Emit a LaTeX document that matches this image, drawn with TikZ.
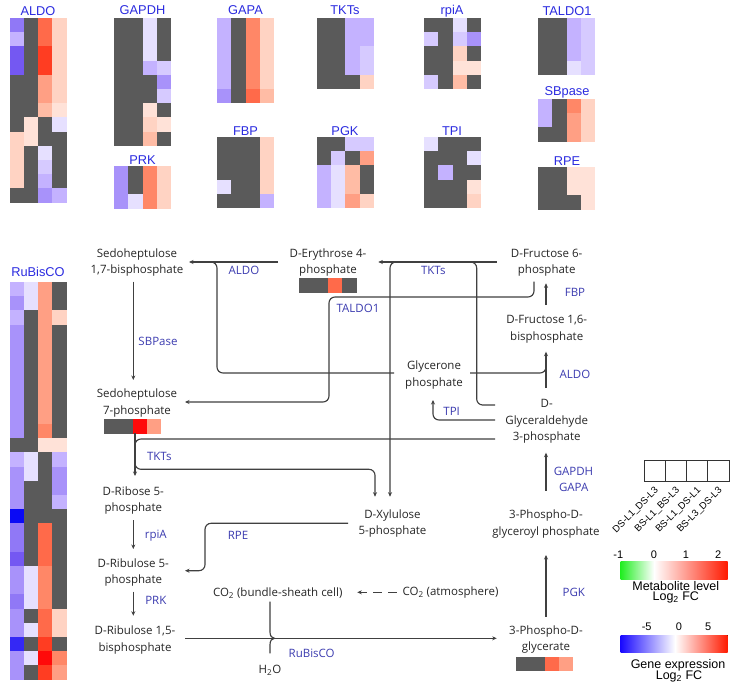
\documentclass[tikz,border=0pt]{standalone}
\usepackage{fontspec}
\setmainfont{Open Sans}
\newfontfamily\arialf{Liberation Sans}
\usetikzlibrary{arrows.meta}
\definecolor{hG}{HTML}{5A5A5A}
\definecolor{hP0}{HTML}{E6E0FF}
\definecolor{hP1}{HTML}{D6CAFF}
\definecolor{hP2}{HTML}{C4B2FF}
\definecolor{hP3}{HTML}{A892FA}
\definecolor{hP4}{HTML}{9078F6}
\definecolor{hP5}{HTML}{7458F2}
\definecolor{hB}{HTML}{0A0AF5}
\definecolor{hB2}{HTML}{3428F5}
\definecolor{hR0}{HTML}{FFE2D8}
\definecolor{hR1}{HTML}{FFD3C3}
\definecolor{hR2}{HTML}{FFBCA5}
\definecolor{hR3}{HTML}{FF9F84}
\definecolor{hR4}{HTML}{FF8767}
\definecolor{hR5}{HTML}{FF6A4A}
\definecolor{hR6}{HTML}{FF3D22}
\definecolor{hR7}{HTML}{FF0A0A}
\definecolor{lnc}{HTML}{404040}
\definecolor{enzc}{HTML}{3C3CB0}
\definecolor{ttlc}{HTML}{2B2BE0}
\definecolor{metc}{HTML}{262626}
\definecolor{greenbar}{HTML}{22EE22}
\definecolor{redbar}{HTML}{FF1A00}
\definecolor{bluebar}{HTML}{1A0AFF}
\newcommand\hmap[3]{%
  \foreach \hrow [count=\hr from 0] in {#3}{%
    \foreach \hc [count=\hk from 0] in \hrow{%
      \fill[fill=\hc] ({#1+\hk*14.3},{#2+\hr*14.2}) rectangle ++(14.35,14.25);
    }
  }
}
\begin{document}
\begin{tikzpicture}[x=1pt,y=-1pt,
  met/.style={font=\fontsize{11.5}{16.5}\selectfont, text=metc, align=center, inner sep=0pt},
  enzl/.style={font=\fontsize{11.5}{14}\selectfont, text=enzc, inner sep=0pt},
  ttl/.style={font=\arialf\fontsize{12.8}{14}\selectfont, text=ttlc, inner sep=0pt},
  conn/.style={draw=lnc, line width=1.15pt},
  arr/.style={conn, -{Stealth[length=4.5pt,width=4pt]}},
  rc/.style={rounded corners=6pt},
  leg/.style={font=\arialf\fontsize{12.5}{14}\selectfont, inner sep=0pt},
  ticklbl/.style={font=\arialf\fontsize{11}{12}\selectfont, inner sep=0pt},
  rotlbl/.style={font=\arialf\fontsize{9.6}{12}\selectfont, rotate=45, anchor=east, inner sep=0pt},
]
\useasboundingbox[fill=white] (0,0) rectangle (745,694);

% ---------- heatmaps ----------
\hmap{9.5}{18}{{hP4,hG,hR5,hR1},{hP2,hG,hR5,hR1},{hP5,hG,hR6,hR1},{hP5,hG,hR6,hR1},{hG,hG,hR3,hR1},{hG,hG,hR3,hR1},{hG,hG,hR2,hR0},{hG,hR0,hG,hP0},{hR1,hR0,hG,hG},{hR1,hG,hP0,hG},{hR1,hG,hP1,hG},{hR1,hG,hP2,hG},{hG,hG,hP3,hP2}}
\hmap{114}{18}{{hG,hG,hP0,hG},{hG,hG,hP0,hG},{hG,hG,hP0,hG},{hG,hG,hP2,hP1},{hG,hG,hG,hP3},{hG,hG,hG,hP1},{hG,hG,hR0,hG},{hG,hG,hR1,hR0},{hG,hG,hR2,hG}}
\hmap{114}{166}{{hP3,hG,hR4,hR1},{hP3,hG,hR4,hR1},{hP3,hP0,hR4,hR1}}
\hmap{217}{18}{{hP2,hG,hR4,hR1},{hP2,hG,hR4,hR1},{hP2,hG,hR4,hR1},{hP2,hG,hR4,hR1},{hP2,hG,hR4,hR1},{hP3,hG,hR5,hR2}}
\hmap{217}{137}{{hG,hG,hG,hR1},{hG,hG,hG,hR1},{hG,hG,hG,hR1},{hP0,hG,hG,hR1},{hG,hG,hG,hP2}}
\hmap{316.7}{18}{{hG,hG,hP2,hP2},{hG,hG,hP2,hP2},{hG,hG,hP2,hP1},{hG,hG,hP2,hP1},{hG,hG,hG,hR1}}
\hmap{424}{18}{{hG,hG,hP0,hG},{hP1,hG,hP1,hP3},{hG,hG,hR1,hG},{hG,hG,hR0,hR0},{hP1,hG,hR2,hG}}
\hmap{316.7}{137}{{hG,hG,hP1,hP1},{hG,hP1,hG,hR3},{hP2,hP0,hR2,hG},{hP2,hP0,hR2,hG},{hP2,hP0,hR3,hR1}}
\hmap{424}{137}{{hP0,hG,hG,hG},{hG,hG,hG,hP0},{hG,hP2,hG,hG},{hG,hG,hG,hR0},{hG,hG,hG,hR1}}
\hmap{538}{18}{{hG,hG,hP2,hP1},{hG,hG,hP2,hP1},{hG,hG,hP2,hP1},{hG,hG,hP0,hP1}}
\hmap{538}{99}{{hP2,hG,hR4,hR1},{hP2,hG,hR3,hR1},{hG,hG,hR3,hR1}}
\hmap{538}{167}{{hG,hG,hR0,hR0},{hG,hG,hR0,hR0},{hG,hG,hG,hR0}}
\hmap{9.5}{282}{{hP2,hP0,hR3,hG},{hP3,hP0,hR3,hG},{hP2,hG,hR3,hR1},{hP3,hG,hR3,hG},{hP3,hG,hR3,hG},{hP3,hG,hR3,hG},{hP3,hG,hR3,hG},{hP3,hG,hR3,hG},{hP3,hG,hR3,hG},{hP3,hG,hR3,hG},{hP3,hG,hR4,hG},{hG,hG,hR0,hR0},{hP2,hP0,hG,hP2},{hP3,hP0,hG,hP3},{hP3,hG,hG,hP3},{hP3,hG,hG,hP2},{hB,hG,hG,hG},{hP4,hG,hR5,hG},{hP4,hG,hR5,hG},{hP5,hG,hR5,hG},{hP3,hP0,hR4,hG},{hP3,hP0,hR4,hG},{hP4,hP0,hR4,hG},{hP3,hG,hR5,hR1},{hP3,hP0,hR5,hR1},{hB2,hG,hR6,hG},{hP3,hP0,hR7,hR4},{hP3,hG,hR6,hR3}}

\node[ttl] (t-aldo) at (38,11) {ALDO};
\node[ttl] (t-gapdh) at (142.5,10) {GAPDH};
\node[ttl] (t-gapa) at (245.5,10) {GAPA};
\node[ttl] (t-tkts) at (345,10) {TKTs};
\node[ttl] (t-rpia) at (452,11) {rpiA};
\node[ttl] (t-taldo) at (567,11) {TALDO1};
\node[ttl] (t-prk) at (142.5,160) {PRK};
\node[ttl] (t-fbp) at (245.5,131) {FBP};
\node[ttl] (t-pgk) at (345,131) {PGK};
\node[ttl] (t-tpi) at (452,131) {TPI};
\node[ttl] (t-sbp) at (567,92) {SBpase};
\node[ttl] (t-rpe) at (567,161) {RPE};
\node[ttl] (t-rub) at (38,271.5) {RuBisCO};

% ---------- metabolites ----------
\node[met] (s17bp) at (137,262.5) {Sedoheptulose\\1,7-bisphosphate};
\node[met] (e4p) at (328,262.5) {D-Erythrose 4-\\phosphate};
\node[met] (f6p) at (546.7,262.5) {D-Fructose 6-\\phosphate};
\node[met] (f16bp) at (546.7,329) {D-Fructose 1,6-\\bisphosphate};
\node[met] (glyc) at (434,375) {Glycerone\\phosphate};
\node[met] (g3p) at (546.7,421.5) {D-\\Glyceraldehyde\\3-phosphate};
\node[met] (s7p) at (137,403) {Sedoheptulose\\7-phosphate};
\node[met] (r5p) at (133.3,500.5) {D-Ribose 5-\\phosphate};
\node[met] (xu5p) at (392.5,523.5) {D-Xylulose\\5-phosphate};
\node[met] (ru5p) at (133.3,572.5) {D-Ribulose 5-\\phosphate};
\node[met] (rubp) at (135,640) {D-Ribulose 1,5-\\bisphosphate};
\node[met] (bpg) at (546,524) {3-Phospho-D-\\glyceroyl phosphate};
\node[met] (pga) at (546,639.5) {3-Phospho-D-\\glycerate};
\node[met] (co2bs) at (277.7,593) {CO\textsubscript{2} (bundle-sheath cell)};
\node[met] (co2at) at (450.5,593) {CO\textsubscript{2} (atmosphere)};
\node[met] (h2o) at (270,670) {H\textsubscript{2}O};

% metabolite bars
\hmap{104}{419.3}{{hG,hG,hR7,hR3}}
\hmap{299.3}{278.3}{{hG,hG,hR5,hG}}
\hmap{516}{656.7}{{hG,hG,hR5,hR3}}

% ---------- enzymes ----------
\node[enzl] (e-sbp) at (158,341.7) {SBPase};
\node[enzl] (e-aldo1) at (244,270.7) {ALDO};
\node[enzl] (e-taldo) at (358,308.3) {TALDO1};
\node[enzl] (e-tkt1) at (433.3,270.7) {TKTs};
\node[enzl] (e-fbp) at (575,292.3) {FBP};
\node[enzl] (e-aldo2) at (575,374.3) {ALDO};
\node[enzl] (e-tpi) at (451.7,411.7) {TPI};
\node[enzl] (e-tkt2) at (159.3,456.7) {TKTs};
\node[enzl] (e-rpia) at (155.8,535.7) {rpiA};
\node[enzl] (e-rpe) at (238,535.7) {RPE};
\node[enzl] (e-prk) at (155.8,600) {PRK};
\node[enzl] (e-rub) at (311.7,653.3) {RuBisCO};
\node[enzl] (e-gapdh) at (573.5,471) {GAPDH};
\node[enzl] (e-gapa) at (573.7,487.7) {GAPA};
\node[enzl] (e-pgk) at (573.8,592.3) {PGK};

% ---------- connectors ----------
% SBPase
\draw[arr] (133.3,281.7) -- (133.3,380);
% ALDO (left): E4P + glycerone-P -> S1,7BP
\draw[arr] (278,262) -- (189,262);
\draw[conn,rc] (394,373) -- (217,373) -- (217,262) -- (205,262);
% TALDO1
\draw[arr,rc] (534,281.7) -- (534,297) -- (329,297) -- (329,402) -- (185,402);
% TKTs (upper)
\draw[arr] (496.7,262) -- (378.3,262);
\draw[arr,rc] (405,262) -- (390,262) -- (390,496.7);
\draw[conn,rc] (495,405) -- (476.7,405) -- (476.7,262) -- (462,262);
% TPI
\draw[arr,rc] (495,420) -- (433,420) -- (433,400);
% ALDO (right)
\draw[arr] (546,388) -- (546,351.7);
\draw[conn,rc] (470,373) -- (546,373) -- (546,358);
% FBP
\draw[arr] (546,305) -- (546,283.3);
% TKTs (lower)
\draw[arr] (135,433.3) -- (135,476);
\draw[conn,rc] (495,439) -- (135,439) -- (135,452);
\draw[arr,rc] (135,455) -- (135,469.3) -- (375,469.3) -- (375,496.7);
% rpiA
\draw[arr] (133.3,520) -- (133.3,549);
% RPE
\draw[arr,rc] (348,523.3) -- (205,523.3) -- (205,570.7) -- (185,570.7);
% PRK
\draw[arr] (133.3,591.7) -- (133.3,615.7);
% RuBisCO
\draw[arr] (185,638.3) -- (496.7,638.3);
\draw[conn] (270,601.7) -- (270,632) .. controls (270,636) and (272,638.3) .. (274.5,638.3) .. controls (272,638.3) and (270,640.6) .. (270,644.6) -- (270,653.3);
\draw[arr,dash pattern=on 9pt off 6pt] (396.7,592.3) -- (357.3,592.3);
% PGK
\draw[arr] (546,616.7) -- (546,555);
% GAPDH / GAPA
\draw[arr] (546,490.7) -- (546,452.7);

% ---------- legend ----------
\foreach \i/\lab in {0/DS-L1\_DS-L3,1/BS-L1\_BS-L3,2/BS-L1\_DS-L1,3/BS-L3\_DS-L3}{
  \draw[black!80, line width=0.8pt] ({644+\i*21.25},460.7) rectangle ++(21.25,21);
  \node[rotlbl] (lg\i) at ({654.6+\i*21.25+2.5},489) {\lab};
}
\fill[left color=greenbar, right color=white] (620.7,561.7) rectangle (654,579.3);
\fill[left color=white, right color=redbar] (654,561.7) rectangle (727.7,579.3);
\node[ticklbl] (m1) at (618.3,555) {-1};
\node[ticklbl] (m2) at (654,555) {0};
\node[ticklbl] (m3) at (686,555) {1};
\node[ticklbl] (m4) at (718.3,555) {2};
\node[leg] (ml1) at (675.8,586) {Metabolite level};
\node[leg] (ml2) at (675.8,597) {Log\textsubscript{2} FC};
\fill[left color=bluebar, right color=white] (620.7,635) rectangle (675,652.3);
\fill[left color=white, right color=redbar] (675,635) rectangle (727.7,652.3);
\node[ticklbl] (g1) at (646.7,626.7) {-5};
\node[ticklbl] (g2) at (679,626.7) {0};
\node[ticklbl] (g3) at (708.3,626.7) {5};
\node[leg] (gl1) at (678,665) {Gene expression};
\node[leg] (gl2) at (679,676) {Log\textsubscript{2} FC};
\end{tikzpicture}
\end{document}
